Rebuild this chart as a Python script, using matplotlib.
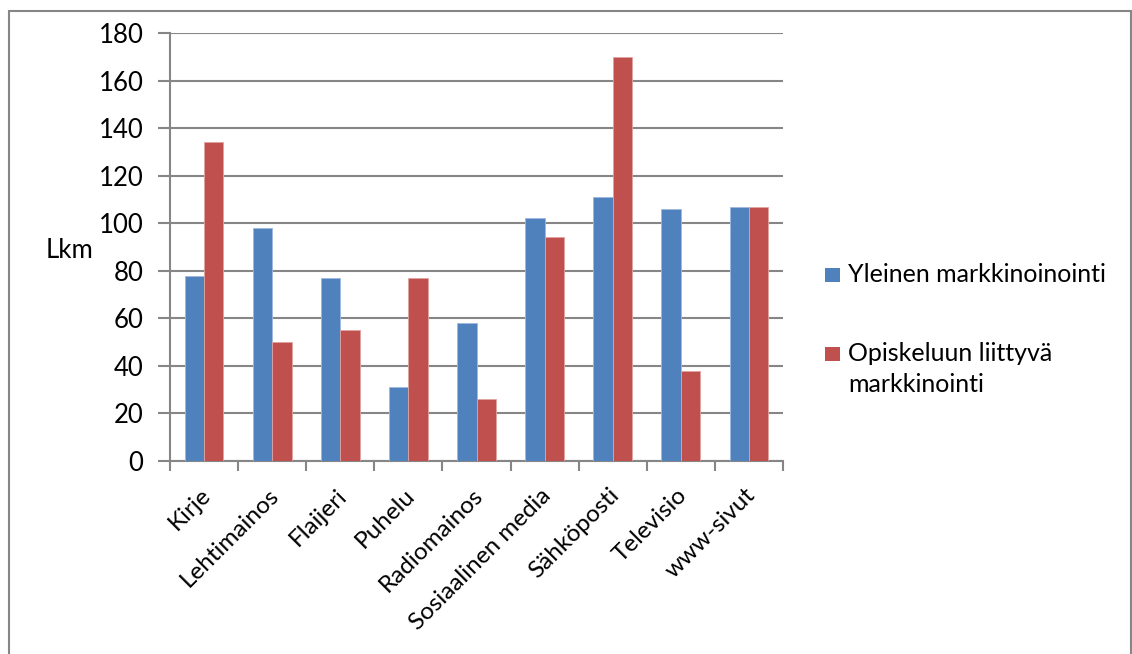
import matplotlib
matplotlib.use("Agg")
import matplotlib.pyplot as plt
import numpy as np
from matplotlib.patches import Rectangle

categories = ["Kirje", "Lehtimainos", "Flaijeri", "Puhelu", "Radiomainos",
              "Sosiaalinen media", "Sähköposti", "Televisio", "www-sivut"]
yleinen = [78, 98, 77, 31, 58, 102, 111, 106, 107]
opiskelu = [134, 50, 55, 77, 26, 94, 170, 38, 107]
series_names = ["Yleinen markkinoinointi", "Opiskeluun liittyvä\nmarkkinointi"]
yticks = [0, 20, 40, 60, 80, 100, 120, 140, 160, 180]

plt.rcParams['font.family'] = ['Lato', 'DejaVu Sans']
W, H = 1132, 654
fig = plt.figure(figsize=(W / 100, H / 100), dpi=100)
fig.patch.set_facecolor('white')

# outer chart border
fig.patches.append(Rectangle((9 / W, -0.01), (1131 - 9) / W, 1.01 - 0.01 - 4 / H,
                             transform=fig.transFigure, fill=False,
                             edgecolor='#868686', linewidth=1.5))

ax = fig.add_axes([170 / W, 1 - 461 / H, (783 - 170) / W, (461 - 33) / H])
x = np.arange(len(categories))
bw = 0.285
blue = '#4F81BD'
red = '#C0504D'
colors = [blue, red]
b1 = ax.bar(x - bw / 2, yleinen, bw, color=blue, edgecolor='#9DB9DE', linewidth=0.6,
            label=series_names[0], zorder=3)
b2 = ax.bar(x + bw / 2, opiskelu, bw, color=red, edgecolor='#E0A4A2', linewidth=0.6,
            label=series_names[1], zorder=3)

ax.set_xlim(-0.5, len(categories) - 0.5)
ax.set_ylim(0, 180)
ax.set_yticks(yticks)
ax.yaxis.grid(True, color='#868686', linewidth=1.5, zorder=0)
ax.set_axisbelow(True)
for s in ['top', 'right']:
    ax.spines[s].set_visible(False)
for s in ['left', 'bottom']:
    ax.spines[s].set_color('#868686')
    ax.spines[s].set_linewidth(1.5)

ax.tick_params(axis='y', direction='out', length=9, width=1.5, color='#868686',
               labelsize=18.5, pad=10)
ax.set_xticks(np.arange(len(categories) + 1) - 0.5, minor=False)
ax.set_xticklabels([])
ax.tick_params(axis='x', direction='out', length=7, width=1.5, color='#868686')
for i, c in enumerate(categories):
    ax.annotate(c, xy=(i, 0), xycoords=('data', 'axes fraction'),
                xytext=(3, -31), textcoords='offset pixels',
                rotation=45, rotation_mode='anchor', ha='right', va='center',
                fontsize=17.5)

fig.text(46 / W, 1 - 250 / H, "Lkm", fontsize=18.5, ha='left', va='center')

# legend (entries: square aligned with first text line)
leg_x = 825
leg_rows = [275, 354]
for name, col, yc in zip(series_names, colors, leg_rows):
    fig.patches.append(Rectangle((leg_x / W, 1 - (yc + 7) / H), 15 / W, 14 / H,
                                 transform=fig.transFigure, facecolor=col,
                                 edgecolor='none'))
    fig.text((leg_x + 23) / W, 1 - (yc - 12) / H, name, fontsize=18,
             ha='left', va='top', linespacing=1.42)

fig.savefig("out.png", dpi=100, facecolor='white')
